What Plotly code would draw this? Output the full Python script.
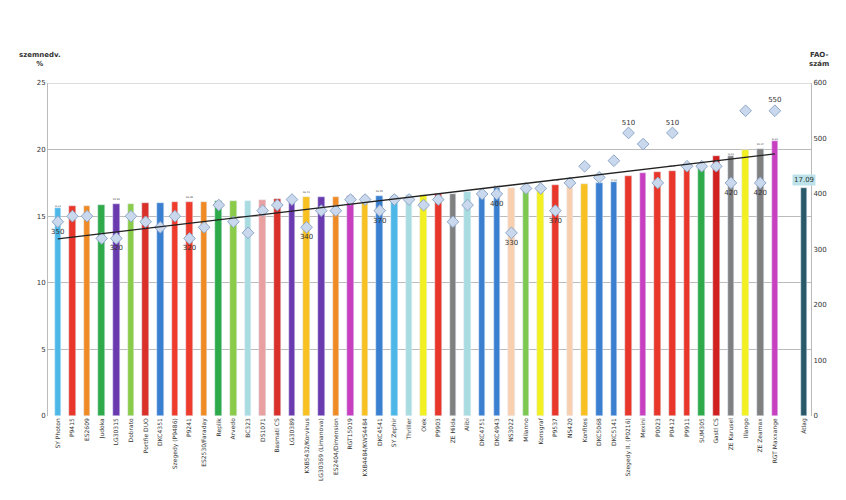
import plotly.graph_objects as go
import numpy as np

hybrids = ["SY Photon","P9415","ES2609","Judoka","LG30315","Dobrato","Portfie DUO","DKC4351","Szegedy (P9486)","P9241",
 "ES2530/Faraday","Replik","Arvedo","BC323","DS1071","Basmati CS","LG30389","KXB5432/Korvinus","LG30369 (Limanova)","ES2404/Dimension",
 "RGT15019","KXB4484/KWS4484","DKC4541","SY Zephir","Thriller","Olek","P9903","ZE Hilda","Alibi","DKC4751",
 "DKC4943","NS3022","Milanno","Konsgraf","P9537","NS420","Konfites","DKC5068","DKC5141","Szegedy II. (P0216)",
 "Mexini","P0023","P0412","P9911","SUM305","Gastl CS","ZE Karusel","Illango","ZE Zeamax","RGT Maxxange"]
moisture = [15.63,15.75,15.8,15.85,15.93,15.93,16.0,16.02,16.07,16.08,
 16.1,16.12,16.12,16.15,16.2,16.28,16.35,16.41,16.45,16.45,
 16.5,16.5,16.55,16.55,16.57,16.6,16.65,16.7,16.8,16.9,
 17.08,17.1,17.25,17.3,17.33,17.35,17.45,17.5,17.59,18.05,
 18.25,18.3,18.37,18.55,18.75,19.5,19.55,20.0,20.07,20.62]
fao = [350,360,360,320,320,360,350,340,360,320,
 340,380,350,330,370,380,390,340,370,370,
 390,390,370,390,390,380,390,350,380,400,
 400,330,410,410,370,420,450,430,460,510,
 490,420,510,450,450,450,420,550,420,550]
avg_label = "Átlag"
avg_value = 17.09
colors = ["#4DB8E8","#E8372A","#F08A24","#2EAA4A","#6A3BAF","#8BCB4A","#D9302A","#3A7FD0","#EE3B2B","#EE3B2B",
 "#F08A24","#2EAA4A","#8BCB4A","#A8DCE0","#E8A0A0","#D9302A","#6A3BAF","#F8C020","#6A3BAF","#F08A24",
 "#C840C0","#F8C020","#3A7FD0","#4DB8E8","#A8DCE0","#F2F020","#E8372A","#808080","#A8DCE0","#3A7FD0",
 "#3A7FD0","#F8D0B0","#7CC850","#F2F020","#E8372A","#F8D0B0","#F8C020","#3A7FD0","#3A7FD0","#E8372A",
 "#C840C0","#E8372A","#E8372A","#E8372A","#2EAA4A","#D02020","#808080","#F2F020","#808080","#C840C0"]
moist_lbl_idx = [0,4,9,17,22,30,34,38,42,46,48,49]
fao_lbl_idx = [0,4,9,17,22,30,31,34,39,42,46,48,49]

n = len(hybrids)
xs = list(range(1, n+1))
x_avg = n + 2

fig = go.Figure()
fig.add_trace(go.Bar(x=xs, y=moisture, marker_color=colors, width=0.45,
    text=[f"{v:.2f}" if i in moist_lbl_idx else "" for i, v in enumerate(moisture)],
    textposition="outside", textfont=dict(size=7, color="#333"), cliponaxis=False))
fig.add_trace(go.Bar(x=[x_avg], y=[avg_value], marker_color="#2A5A6A", width=0.45))
fig.add_annotation(x=x_avg, y=avg_value, text=f"{avg_value:.2f}", yshift=8, showarrow=False,
    bgcolor="#BDE3EA", font=dict(size=7, color="#333"))
fig.add_trace(go.Scatter(x=xs, y=fao, yaxis="y2", mode="markers+text",
    marker=dict(symbol="diamond", size=9, color="#C9D8EC", line=dict(color="#8FA8C8", width=1)),
    text=[str(v) if i in fao_lbl_idx else "" for i, v in enumerate(fao)],
    textposition=["top center" if v >= 500 else "bottom center" for v in fao],
    textfont=dict(size=7, color="#333")))
k, b = np.polyfit(xs, fao, 1)
fig.add_trace(go.Scatter(x=[1, n], y=[k*1+b, k*n+b], yaxis="y2", mode="lines",
    line=dict(color="#222", width=1.3)))

fig.update_layout(width=846, height=500, showlegend=False, plot_bgcolor="white", paper_bgcolor="white",
    margin=dict(l=40, r=43, t=75, b=92), bargap=0,
    font=dict(family="DejaVu Sans", size=7, color="#333"),
    xaxis=dict(range=[0.33, x_avg+0.47], tickvals=xs+[x_avg], ticktext=hybrids+[avg_label],
        tickangle=-90, tickfont=dict(size=6), showgrid=False, ticks="", showline=False),
    yaxis=dict(range=[0, 25], dtick=5, gridcolor="#BBBBBB", showline=True, linecolor="#BBBBBB", zeroline=False,
        tickfont=dict(size=7)),
    yaxis2=dict(range=[0, 600], dtick=100, overlaying="y", side="right", showgrid=False,
        showline=True, linecolor="#BBBBBB", tickfont=dict(size=7)))
fig.add_shape(type="line", xref="paper", yref="y", x0=0, x1=1, y0=25, y1=25, line=dict(color="#BBBBBB", width=1))
fig.add_annotation(xref="paper", yref="paper", x=-0.01, y=1.04, text="<b>szemnedv.<br>%</b>", showarrow=False,
    font=dict(size=7), xanchor="center", yanchor="bottom")
fig.add_annotation(xref="paper", yref="paper", x=1.01, y=1.04, text="<b>FAO-<br>szám</b>", showarrow=False,
    font=dict(size=7), xanchor="center", yanchor="bottom")
fig.write_html("out.html")
